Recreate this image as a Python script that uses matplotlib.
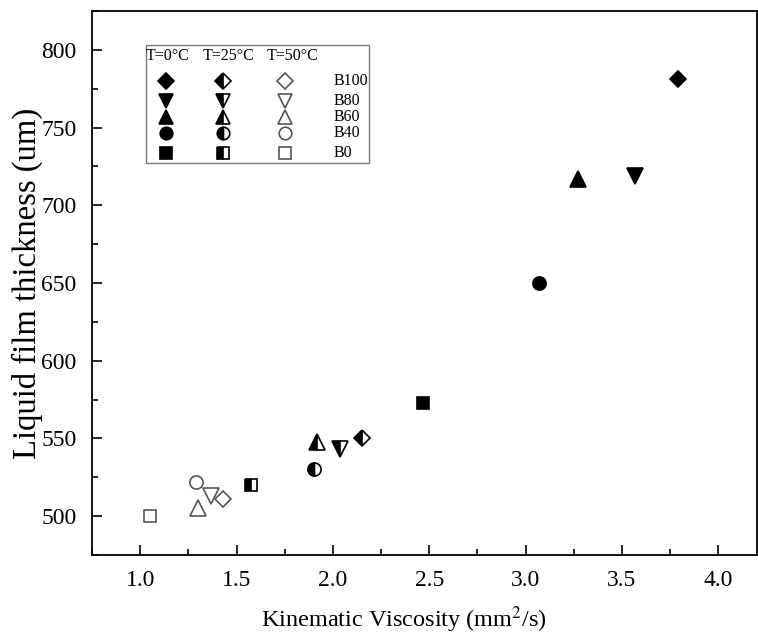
import matplotlib
matplotlib.use("Agg")
import matplotlib.pyplot as plt
from matplotlib.ticker import MultipleLocator, FormatStrFormatter

plt.rcParams["font.family"] = ["Liberation Serif", "DejaVu Serif"]
plt.rcParams["mathtext.fontset"] = "stix"

# blends and temperatures
blends = ["B100", "B80", "B60", "B40", "B0"]
temps = ["T=0°C", "T=25°C", "T=50°C"]
markers = ["D", "v", "^", "o", "s"]

# kinematic viscosity (mm2/s) per blend, one list per temperature
visc_0 = [3.79, 3.57, 3.27, 3.07, 2.47]
visc_25 = [2.15, 2.035, 1.915, 1.90, 1.575]
visc_50 = [1.43, 1.37, 1.30, 1.29, 1.05]

# liquid film thickness (um)
film_0 = [781, 719, 717, 650, 573]
film_25 = [550, 543, 548, 530, 520]
film_50 = [511, 513, 505.5, 522, 500]

msize = {"D": 8.5, "v": 11, "^": 11, "o": 9.5, "s": 9}
styles = [
    dict(fillstyle="full", markerfacecolor="black", markeredgecolor="black"),
    dict(fillstyle="left", markerfacecolor="black", markerfacecoloralt="white",
         markeredgecolor="black"),
    dict(fillstyle="none", markeredgecolor="#555555"),
]

fig = plt.figure(figsize=(7.58, 6.39), dpi=100)
ax = fig.add_axes([0.1214, 0.1315, 0.877, 0.8513])

for st, xs, ys in zip(styles, [visc_0, visc_25, visc_50], [film_0, film_25, film_50]):
    for m, x, y in zip(markers, xs, ys):
        ax.plot(x, y, linestyle="none", marker=m, markersize=msize[m],
                markeredgewidth=1.2, **st)

ax.set_xlim(0.75, 4.2)
ax.set_ylim(475, 825)
ax.xaxis.set_major_locator(MultipleLocator(0.5))
ax.xaxis.set_minor_locator(MultipleLocator(0.25))
ax.yaxis.set_major_locator(MultipleLocator(50))
ax.yaxis.set_minor_locator(MultipleLocator(25))
ax.xaxis.set_major_formatter(FormatStrFormatter("%.1f"))
ax.tick_params(which="both", direction="in", labelsize=17, width=1.2)
ax.tick_params(which="major", length=7)
ax.tick_params(which="minor", length=4)
ax.tick_params(axis="x", pad=11)
ax.tick_params(axis="y", pad=11)
for s in ax.spines.values():
    s.set_linewidth(1.3)

ax.set_xlabel("Kinematic Viscosity (mm$^2$/s)", fontsize=17.5)
ax.set_ylabel("Liquid film thickness (um)", fontsize=23.5)
ax.xaxis.set_label_coords(0.469, -0.09)
ax.yaxis.set_label_coords(-0.074, 0.5)

# hand-built grid legend: columns = temperature, rows = blend
box = plt.Rectangle((0.0812, 0.7206), 0.3353, 0.2169, transform=ax.transAxes,
                    facecolor="white", edgecolor="#777777", lw=1.0)
ax.add_patch(box)
col_x = [0.1108, 0.1974, 0.2902]
head_x = [0.1143, 0.206, 0.302]
row_y = [0.8719, 0.8351, 0.8057, 0.7763, 0.7395]
for hx, t in zip(head_x, temps):
    ax.text(hx, 0.9173, t, transform=ax.transAxes, fontsize=11.5, ha="center", va="center")
for ry, b in zip(row_y, blends):
    ax.text(0.3639, ry, b, transform=ax.transAxes, fontsize=11.5, ha="left", va="center")
for cx, st in zip(col_x, styles):
    for ry, m in zip(row_y, markers):
        ax.plot(cx, ry, transform=ax.transAxes, linestyle="none", marker=m,
                markersize=msize[m] * 0.95, markeredgewidth=1.2, clip_on=False, **st)

fig.savefig("out.png", dpi=100)
